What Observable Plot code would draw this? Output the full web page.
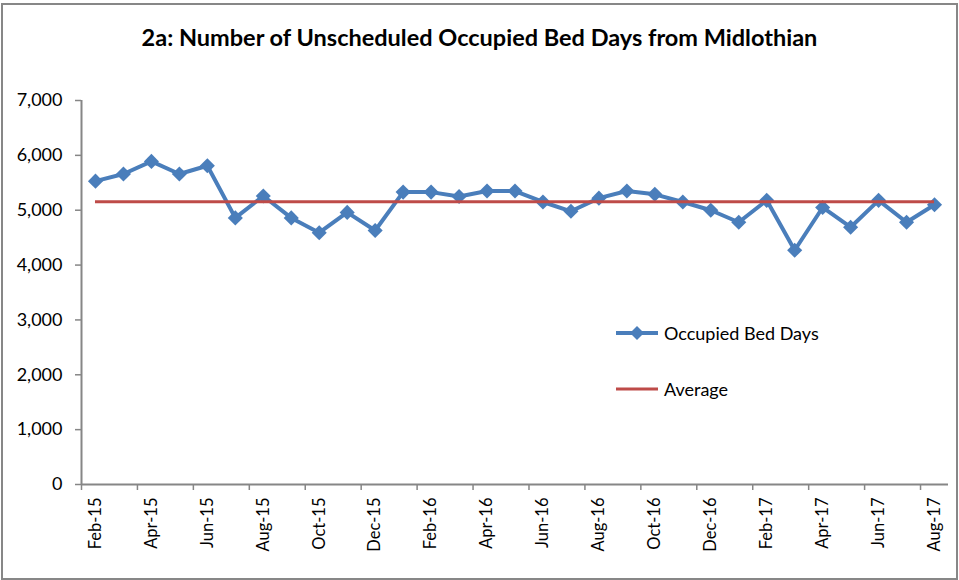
<!DOCTYPE html>
<html>
<head>
<meta charset="utf-8">
<script src="https://cdn.jsdelivr.net/npm/d3@7"></script>
<script src="https://cdn.jsdelivr.net/npm/@observablehq/plot@0.6"></script>
<style>
  html, body { margin: 0; padding: 0; background: #fff; }
  #wrap { position: relative; width: 959px; height: 580px; font-family: Lato, "Open Sans", sans-serif; }
  #border { position: absolute; left: 1px; top: 3px; width: 953px; height: 573px; border: 2px solid #878787; pointer-events: none; }
  #title { position: absolute; left: 0; top: 23px; width: 959px; text-align: center; font-weight: bold; font-size: 23.5px; color: #000; }
  #legend { position: absolute; left: 614px; top: 320px; font-size: 18px; color: #000; }
  .row { display: flex; align-items: center; height: 26px; }
  .row svg { display: block; margin-right: 4px; }
  #chart { position: absolute; left: 0; top: 0; width: 959px; height: 580px; }
  #chart svg { max-width: none; }
</style>
</head>
<body>
<div id="wrap">
  <div id="chart"></div>
  <div id="title"></div>
  <div id="legend"></div>
  <div id="border"></div>
</div>
<script>
const titleText = "2a: Number of Unscheduled Occupied Bed Days from Midlothian";
const months = ["Feb-15","Mar-15","Apr-15","May-15","Jun-15","Jul-15","Aug-15","Sep-15","Oct-15","Nov-15","Dec-15",
  "Jan-16","Feb-16","Mar-16","Apr-16","May-16","Jun-16","Jul-16","Aug-16","Sep-16","Oct-16","Nov-16","Dec-16",
  "Jan-17","Feb-17","Mar-17","Apr-17","May-17","Jun-17","Jul-17","Aug-17"];
const bedDays = [5530,5660,5890,5660,5810,4860,5260,4860,4590,4960,4630,
  5330,5330,5250,5350,5350,5150,4980,5220,5350,5290,5150,5000,
  4780,5180,4270,5050,4690,5180,4780,5100];
const average = 5155;
const labelMonths = ["Feb-15","Apr-15","Jun-15","Aug-15","Oct-15","Dec-15","Feb-16","Apr-16","Jun-16","Aug-16","Oct-16","Dec-16","Feb-17","Apr-17","Jun-17","Aug-17"];
const yTicks = [0,1000,2000,3000,4000,5000,6000,7000];
const seriesNames = ["Occupied Bed Days","Average"];

const blue = "#4a7ebb", red = "#be4b48", axisGray = "#868686";
const data = months.map((m, i) => ({month: m, value: bedDays[i]}));

const W = 959, H = 580, mL = 81, mR = 11, mT = 100, mB = 96;
const step = (W - mL - mR) / months.length;
const first = months[0], last = months[months.length - 1];

const chart = Plot.plot({
  width: W, height: H,
  marginLeft: mL, marginRight: mR, marginTop: mT, marginBottom: mB,
  style: {fontFamily: "Lato, 'Open Sans', sans-serif", color: "#000", background: "transparent"},
  x: {type: "point", domain: months, padding: 0.5, align: 0.5, round: false, range: [mL, W - mR], axis: null},
  y: {domain: [0, 7000], range: [H - mB, mT], axis: null},
  marks: [
    Plot.axisY({ticks: yTicks, tickFormat: d3.format(","), label: null, tickSize: 6, tickPadding: 13, fontSize: 18, stroke: axisGray, strokeWidth: 1.5}),
    Plot.axisX({ticks: labelMonths, label: null, tickSize: 6, dx: -step / 2, tickFormat: () => "", stroke: axisGray, strokeWidth: 1.5}),
    Plot.axisX({ticks: labelMonths, label: null, tickSize: 0, tickRotate: -90, tickPadding: 13, fontSize: 16.5}),
    Plot.ruleX([first], {x: d => d, y1: () => 0, y2: () => 7000, dx: -step / 2, stroke: axisGray, strokeWidth: 2}),
    Plot.ruleY([0], {y: d => d, x1: () => first, x2: () => last, insetLeft: -step / 2, insetRight: -step / 2, stroke: axisGray, strokeWidth: 2}),
    Plot.line(data, {x: "month", y: "value", stroke: blue, strokeWidth: 4}),
    Plot.dot(data, {x: "month", y: "value", symbol: "diamond2", r: 6.8, fill: blue, stroke: "none"}),
    Plot.ruleY([average], {y: d => d, x1: () => first, x2: () => last, stroke: red, strokeWidth: 3})
  ]
});
document.getElementById("chart").appendChild(chart);
document.getElementById("title").textContent = titleText;

const legend = document.getElementById("legend");
const row1 = document.createElement("div"); row1.className = "row";
row1.innerHTML = `<svg width="46" height="16"><line x1="2" x2="44" y1="8" y2="8" stroke="${blue}" stroke-width="4"/><path d="M23,1 L30,8 L23,15 L16,8 Z" fill="${blue}"/></svg><span>${seriesNames[0]}</span>`;
const gap = document.createElement("div"); gap.style.height = "30px";
const row2 = document.createElement("div"); row2.className = "row";
row2.innerHTML = `<svg width="46" height="16"><line x1="2" x2="44" y1="8" y2="8" stroke="${red}" stroke-width="3"/></svg><span>${seriesNames[1]}</span>`;
legend.append(row1, gap, row2);
</script>
</body>
</html>
